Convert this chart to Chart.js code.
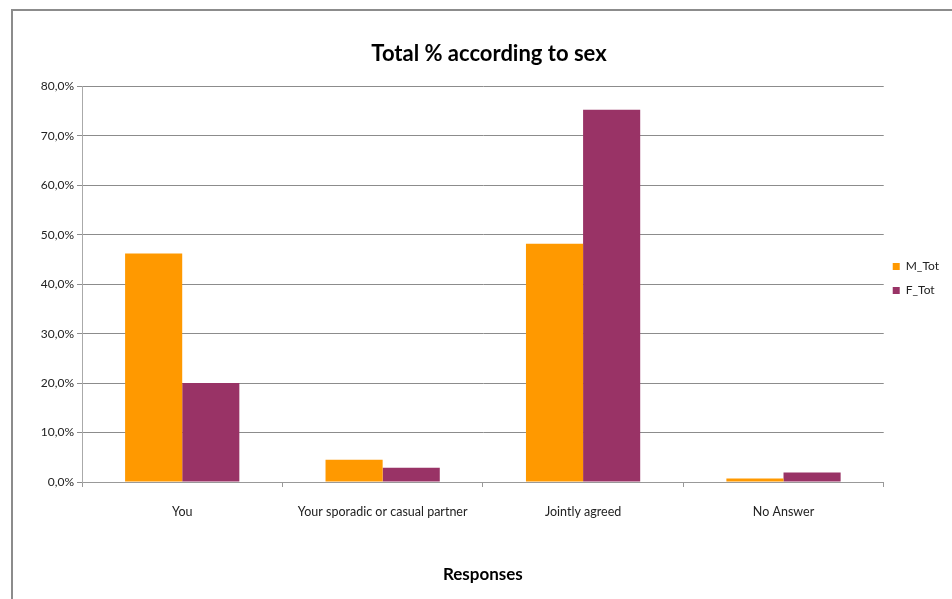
<!DOCTYPE html>
<html>
<head>
<meta charset="utf-8">
<script src="https://cdn.jsdelivr.net/npm/chart.js@4"></script>
<style>
    body { margin: 0; background: #fff; }
    #frame {
        position: absolute; left: 11px; top: 9px; width: 960px; height: 620px;
        border-left: 2px solid #8c8c8c; border-top: 2px solid #8c8c8c;
    }
    #wrap { position: absolute; left: 0; top: 0; width: 952px; height: 599px; }
</style>
</head>
<body>
<div id="frame"></div>
<div id="wrap"><canvas id="sexChart"></canvas></div>
<script>
// Kategori jawaban
const categories = ['You', 'Your sporadic or casual partner', 'Jointly agreed', 'No Answer'];

// Nilai per seri (dalam persen)
const mTot = [46.2, 4.5, 48.2, 0.7];
const fTot = [20.0, 2.9, 75.3, 1.9];

// Label sumbu Y
const yTicks = [0, 10, 20, 30, 40, 50, 60, 70, 80];

const fontName = 'Lato, "Open Sans", sans-serif';

// Geser legenda sedikit ke atas dan ke kiri seperti di gambar asli
const legendShift = {
    id: 'legendShift',
    afterLayout: function (chart) {
        chart.legend.top -= 16;
        chart.legend.bottom -= 16;
        chart.legend.left -= 3;
        chart.legend.right -= 3;
    }
};

const data = {
    labels: categories,
    datasets: [{
        label: 'M_Tot',
        data: mTot,
        backgroundColor: '#ff9900',
        borderWidth: 0
    }, {
        label: 'F_Tot',
        data: fTot,
        backgroundColor: '#993366',
        borderWidth: 0
    }]
};

const config = {
    type: 'bar',
    data: data,
    plugins: [legendShift],
    options: {
        responsive: true,
        maintainAspectRatio: false,
        animation: false,
        layout: {
            padding: { left: 26, right: 0, top: 0, bottom: 10 }
        },
        datasets: {
            bar: { categoryPercentage: 0.57, barPercentage: 1.0 }
        },
        plugins: {
            title: {
                display: true,
                text: 'Total % according to sex',
                color: '#000',
                font: { family: fontName, size: 22, weight: 'bold' },
                padding: { top: 41, bottom: 19 }
            },
            legend: {
                position: 'right',
                align: 'center',
                labels: {
                    boxWidth: 7,
                    boxHeight: 7,
                    padding: 12,
                    color: '#222',
                    font: { family: fontName, size: 12 }
                }
            },
            tooltip: { enabled: false }
        },
        scales: {
            x: {
                grid: {
                    offset: true,
                    drawOnChartArea: false,
                    drawTicks: true,
                    tickLength: 5,
                    color: '#999'
                },
                border: { color: '#999', width: 1 },
                ticks: {
                    color: '#222',
                    padding: 17,
                    maxRotation: 0,
                    font: { family: fontName, size: 12.5 }
                },
                title: {
                    display: true,
                    text: 'Responses',
                    color: '#000',
                    font: { family: fontName, size: 17, weight: 'bold' },
                    padding: { top: 4, bottom: 4 }
                },
                afterFit: function (scale) { scale.height = 107; }
            },
            y: {
                min: 0,
                max: 80,
                afterBuildTicks: function (scale) {
                    scale.ticks = yTicks.map(function (v) { return { value: v }; });
                },
                grid: {
                    color: '#8c8c8c',
                    tickLength: 5
                },
                border: { color: '#aaa', width: 1 },
                ticks: {
                    color: '#222',
                    padding: 3,
                    font: { family: fontName, size: 12 },
                    callback: function (value) {
                        return value.toFixed(1).replace('.', ',') + '%';
                    }
                },
                afterFit: function (scale) { scale.width = 56; }
            }
        }
    }
};

const ctx = document.getElementById('sexChart').getContext('2d');
new Chart(ctx, config);
</script>
</body>
</html>
